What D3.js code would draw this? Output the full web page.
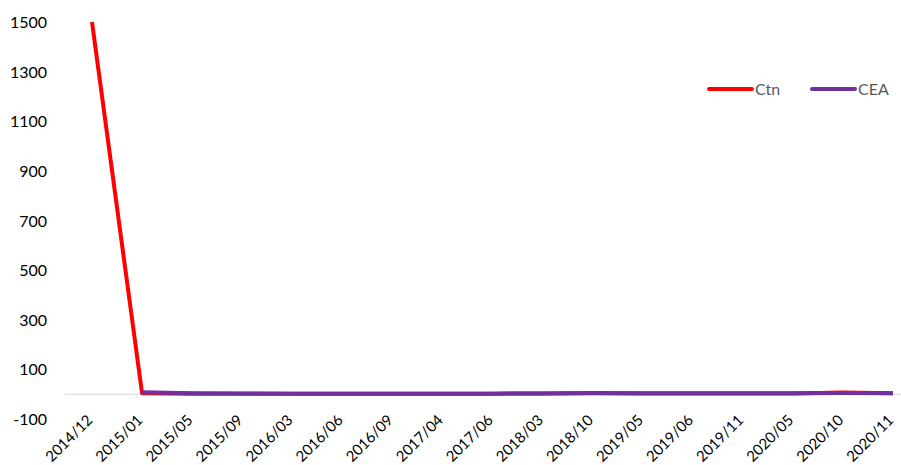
<!DOCTYPE html>
<html>
<head>
<meta charset="utf-8">
<script src="https://cdn.jsdelivr.net/npm/d3@7"></script>
<style>
  body { margin: 0; background: #fff; }
  svg text { font-family: Lato, "Noto Sans", sans-serif; }
</style>
</head>
<body>
<svg id="chart"></svg>
<script>
const width = 901;
const height = 465;

const categories = ["2014/12", "2015/01", "2015/05", "2015/09", "2016/03", "2016/06", "2016/09", "2017/04",
  "2017/06", "2018/03", "2018/10", "2019/05", "2019/06", "2019/11", "2020/05", "2020/10", "2020/11"];
const ctnValues = [1500, 4, 2, 2, 2, 2, 2, 2, 2, 3, 4, 3, 3, 3, 3, 7, 4];
const ceaValues = [null, 8, 4, 3, 2, 2, 2, 2, 2, 3, 5, 4, 4, 4, 4, 5, 4];
const yTicks = [-100, 100, 300, 500, 700, 900, 1100, 1300, 1500];

const series = [
  { name: "Ctn", values: ctnValues, color: "#ff0000" },
  { name: "CEA", values: ceaValues, color: "#7030a0" }
];

const svg = d3.select("#chart")
    .attr("width", width)
    .attr("height", height);

const xScale = d3.scalePoint()
    .domain(categories)
    .range([92, 893]);

const yScale = d3.scaleLinear()
    .domain([-100, 1500])
    .range([419, 22]);

// y labels
const yAxis = d3.axisLeft(yScale)
    .tickValues(yTicks)
    .tickFormat(d => String(d))
    .tickSize(0)
    .tickPadding(0);

const yg = svg.append("g")
    .attr("transform", "translate(47,0)")
    .call(yAxis);
yg.select(".domain").remove();
yg.selectAll("text")
    .attr("font-size", 16)
    .attr("fill", "#000")
    .attr("dy", "0.35em");

// zero line
svg.append("line")
    .attr("x1", 65)
    .attr("x2", 901)
    .attr("y1", yScale(0))
    .attr("y2", yScale(0))
    .attr("stroke", "#d9d9d9")
    .attr("stroke-width", 1);

// x labels
const xAxis = d3.axisBottom(xScale)
    .tickSize(0)
    .tickPadding(0);

const xg = svg.append("g")
    .attr("transform", "translate(0,405)")
    .call(xAxis);
xg.select(".domain").remove();
xg.selectAll("text")
    .attr("font-size", 15)
    .attr("fill", "#000")
    .attr("text-anchor", "end")
    .attr("dy", 0)
    .attr("transform", "translate(1,16) rotate(-45)");

const line = d3.line()
    .defined(d => d != null)
    .x((d, i) => xScale(categories[i]))
    .y(d => yScale(d));

svg.selectAll(".series")
    .data(series)
    .enter()
    .append("path")
    .attr("class", "series")
    .attr("d", d => line(d.values))
    .attr("fill", "none")
    .attr("stroke", d => d.color)
    .attr("stroke-width", 4)
    .attr("stroke-linejoin", "round");

// legend
const legend = svg.selectAll(".legend")
    .data(series)
    .enter()
    .append("g")
    .attr("class", "legend")
    .attr("transform", (d, i) => `translate(${709 + i * 103},89)`);

legend.append("line")
    .attr("x1", 0)
    .attr("x2", 43)
    .attr("stroke", d => d.color)
    .attr("stroke-width", 4)
    .attr("stroke-linecap", "round");

legend.append("text")
    .attr("x", 46)
    .attr("dy", "0.35em")
    .attr("font-size", 16)
    .attr("fill", "#595959")
    .text(d => d.name);
</script>
</body>
</html>
